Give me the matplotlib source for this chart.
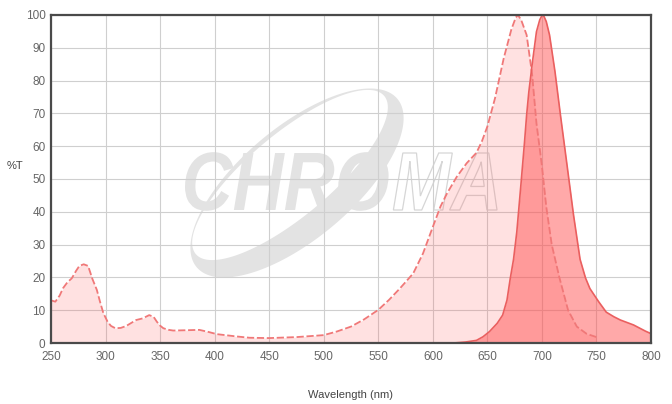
import numpy as np
import matplotlib
matplotlib.use("Agg")
import matplotlib.pyplot as plt
from matplotlib.path import Path
from matplotlib.patches import PathPatch
from matplotlib.textpath import TextPath
from matplotlib.font_manager import FontProperties
from matplotlib.transforms import Affine2D


# excitation spectrum (dashed)
EX_NM = [250, 254, 258, 261, 265, 269, 273, 276, 280, 284, 288, 292, 295, 298,
         302, 305, 309, 314, 319, 324, 328, 334, 340, 344, 347, 350, 353, 358,
         362, 375, 386, 394, 402, 420, 432, 450, 475, 500, 512, 525, 537, 550,
         560, 570, 582, 591, 599, 607, 613, 622, 631, 640, 645, 650, 657, 665,
         672, 676, 678, 681, 686, 691, 695, 700, 704, 709, 716, 724, 732, 741,
         750]
EX_T = [13.0, 12.6, 14.5, 16.7, 18.5, 19.7, 22.0, 23.5, 24.0, 23.5, 19.5, 16.2,
        12.5, 9.1, 6.4, 5.2, 4.5, 4.6, 5.2, 6.2, 7.0, 7.5, 8.5, 8.0, 6.5, 5.3,
        4.5, 4.0, 3.8, 3.9, 4.0, 3.4, 2.7, 2.0, 1.6, 1.5, 1.8, 2.4, 3.5, 5.0,
        7.2, 10.1, 13.2, 16.7, 21.2, 27.3, 34.5, 41.6, 45.6, 50.7, 54.8, 58.0,
        61.5, 66.0, 74.6, 86.8, 95.6, 99.2, 100.0, 98.5, 93.9, 82.0, 67.0, 54.0,
        41.5, 30.0, 20.0, 10.0, 5.0, 2.8, 1.8]

# emission spectrum (solid)
EM_NM = [619, 630, 640, 646, 652, 659, 664, 668, 671, 674, 677, 681, 684, 686,
         688, 691, 695, 698, 700, 701, 702, 704, 707, 712, 717, 723, 729, 735,
         740, 744, 752, 759, 766, 772, 784, 795, 799]
EM_T = [0.0, 0.3, 0.8, 1.9, 3.5, 6.0, 8.5, 13.1, 19.7, 25.5, 33.9, 49.2, 61.0,
        69.5, 76.5, 84.8, 94.9, 98.5, 99.8, 100.0, 99.5, 98.0, 93.9, 82.7,
        69.5, 54.3, 39.0, 25.5, 19.8, 16.6, 12.6, 9.4, 8.0, 7.0, 5.5, 3.6, 3.0]

X_TICKS = list(range(250, 801, 50))
Y_TICKS = list(range(0, 101, 10))

FONT = "Liberation Sans"
TICK_COLOR = "#666666"


def add_watermark(fig, ax):
    # pixel coordinates, y measured from the top of the figure
    px = Affine2D().scale(0.01, -0.01).translate(0, 4.04) + fig.dpi_scale_trans

    # crescent swoosh: outer ellipse with an offset inner hole
    t = np.linspace(0, 2 * np.pi, 200)
    ang = np.deg2rad(40)

    def ellipse(cx, cy, a, b):
        x = a * np.cos(t)
        y = b * np.sin(t)
        xr = cx + x * np.cos(ang) - y * np.sin(ang)
        yr = cy - (x * np.sin(ang) + y * np.cos(ang))
        return np.column_stack([xr, yr])

    outer = ellipse(297, 183, 131, 56)
    inner = ellipse(290, 175, 123, 41)[::-1]
    verts = np.vstack([outer, inner])
    codes = ([Path.MOVETO] + [Path.LINETO] * (len(outer) - 1)
             + [Path.MOVETO] + [Path.LINETO] * (len(inner) - 1))
    grey = "#e3e3e3"
    ax.add_artist(PathPatch(Path(verts, codes), facecolor=grey,
                            edgecolor="none", transform=px, zorder=0.3,
                            clip_on=False))

    fp = FontProperties(family=FONT, weight="bold", style="italic")
    tp1 = TextPath((0, 0), "CHRO", size=80, prop=fp)
    w1 = tp1.get_extents().x1
    tp2 = TextPath((w1 + 4, 0), "MA", size=80, prop=fp)
    ext2 = tp2.get_extents()
    x0 = tp1.get_extents().x0
    sx = 312 / (ext2.x1 - x0)
    sy = 57 / ext2.y1
    place = Affine2D().translate(-x0, 0).scale(sx, -sy).translate(185, 210)

    p1 = place.transform_path(tp1)
    p2 = place.transform_path(tp2)
    ax.add_artist(PathPatch(p1, facecolor=grey, edgecolor="none",
                            transform=px, zorder=0.3, clip_on=False))
    ax.add_artist(PathPatch(p2, facecolor="none", edgecolor="#d6d6d6",
                            linewidth=0.9, transform=px, zorder=0.3,
                            clip_on=False))


def main():
    fig = plt.figure(figsize=(6.72, 4.04), dpi=100)
    ax = fig.add_axes([51 / 672, 61 / 404, 600 / 672, 328 / 404])

    add_watermark(fig, ax)

    ax.fill_between(EX_NM, EX_T, 0, color="#ff5a5a", alpha=0.18,
                    linewidth=0, zorder=2)
    ax.plot(EX_NM, EX_T, color="#f07878", linewidth=1.3,
            linestyle=(0, (4, 1.5)), zorder=4)

    ax.fill_between(EM_NM, EM_T, 0, color="#ff5050", alpha=0.49,
                    linewidth=0, zorder=3)
    ax.plot(EM_NM, EM_T, color="#ea5f5f", linewidth=1.2, zorder=5)

    ax.set_xlim(250, 800)
    ax.set_ylim(0, 100)
    ax.set_xticks(X_TICKS)
    ax.set_yticks(Y_TICKS)
    ax.set_axisbelow(True)
    ax.grid(True, color="#cfcfcf", linewidth=0.8)
    ax.tick_params(length=0, labelsize=8.5, labelcolor=TICK_COLOR)
    ax.tick_params(axis="x", pad=6)
    ax.tick_params(axis="y", pad=4)
    for lab in ax.get_xticklabels() + ax.get_yticklabels():
        lab.set_fontfamily(FONT)

    for sp in ax.spines.values():
        sp.set_color("#4a4a4a")
        sp.set_linewidth(1.6)
        sp.set_zorder(6)

    fig.text(15 / 672, 1 - 166 / 404, "%T", ha="center", va="center",
             fontsize=8, color="#444444", family=FONT)
    fig.text(351 / 672, 1 - 395 / 404, "Wavelength (nm)", ha="center",
             va="center", fontsize=8, color="#444444", family=FONT)

    fig.savefig("out.png", dpi=100)


if __name__ == "__main__":
    main()
